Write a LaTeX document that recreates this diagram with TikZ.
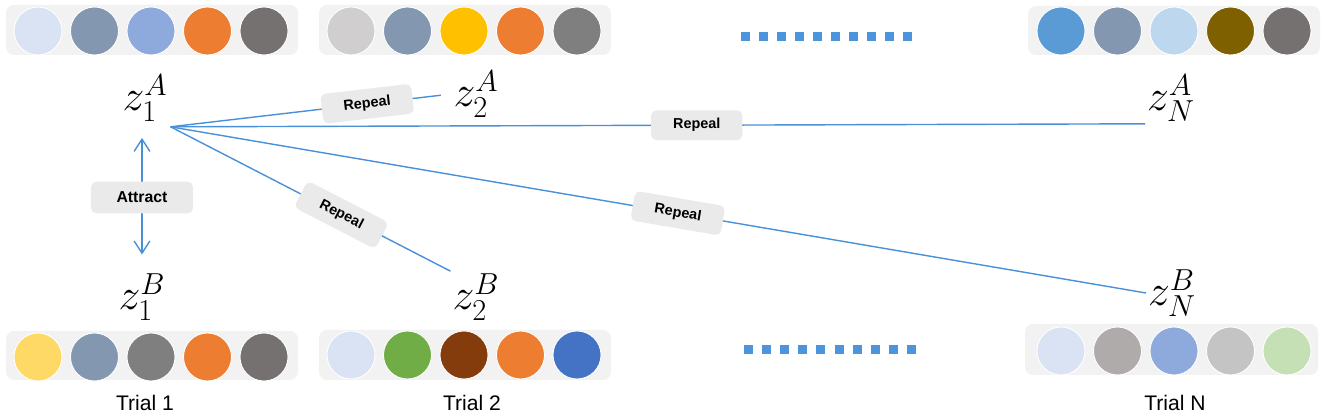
\documentclass[tikz,border=0pt]{standalone}
\usepackage{fontspec}
\setsansfont{Liberation Sans}
\usetikzlibrary{arrows.meta}

\definecolor{linkblue}{RGB}{74,144,217}
\definecolor{dotblue}{RGB}{76,148,220}
\definecolor{barbg}{RGB}{242,242,242}
\definecolor{tagbg}{RGB}{234,234,234}
% ball colours
\definecolor{paleblue}{HTML}{DAE3F3}
\definecolor{slate}{HTML}{8497B0}
\definecolor{cornflower}{HTML}{8EA9DB}
\definecolor{tangerine}{HTML}{ED7D31}
\definecolor{stone}{HTML}{767171}
\definecolor{silver}{HTML}{D0CECE}
\definecolor{gold}{HTML}{FFC000}
\definecolor{midgray}{HTML}{7F7F7F}
\definecolor{skyblue}{HTML}{5B9BD5}
\definecolor{iceblue}{HTML}{BDD7EE}
\definecolor{umber}{HTML}{7F6000}
\definecolor{butter}{HTML}{FFD966}
\definecolor{leaf}{HTML}{70AD47}
\definecolor{rust}{HTML}{843C0C}
\definecolor{royal}{HTML}{4472C4}
\definecolor{ash}{HTML}{AFABAB}
\definecolor{cloud}{HTML}{C4C4C4}
\definecolor{mint}{HTML}{C5E0B4}

\begin{document}
\begin{tikzpicture}[x=0.02cm,y=-0.02cm,
    bar/.style={fill=barbg,rounded corners=4.5pt},
    ball/.style={fill=#1,draw=white,line width=0.5pt},
    zlabel/.style={inner sep=1pt,font=\fontsize{25.5}{30}\selectfont},
    link/.style={draw=linkblue,line width=0.8pt},
    tag/.style={fill=tagbg,rounded corners=3pt,inner sep=1pt,minimum width=52pt,minimum height=17pt,font=\sffamily\bfseries\fontsize{8.2}{9}\selectfont},
    trial/.style={font=\sffamily\fontsize{12}{14}\selectfont},
    barb/.tip={Straight Barb[length=7pt,width=9pt]}]
  \useasboundingbox (0,0) rectangle (1325,418);

  % top row of trials
  \begin{scope}[shift={(6,5)}]
    \path[bar] (0,0) rectangle (292,50);
    \foreach \c [count=\i] in {paleblue,slate,cornflower,tangerine,stone}
      \path[ball=\c] ({32+(\i-1)*56.5},26) circle (24);
  \end{scope}
  \begin{scope}[shift={(319,5)}]
    \path[bar] (0,0) rectangle (292,50);
    \foreach \c [count=\i] in {silver,slate,gold,tangerine,midgray}
      \path[ball=\c] ({32+(\i-1)*56.5},26) circle (24);
  \end{scope}
  \begin{scope}[shift={(1028,6)}]
    \path[bar] (0,0) rectangle (292,49);
    \foreach \c [count=\i] in {skyblue,slate,iceblue,umber,stone}
      \path[ball=\c] ({33+(\i-1)*56.5},25) circle (24);
  \end{scope}

  % bottom row of trials
  \begin{scope}[shift={(6,331)}]
    \path[bar] (0,0) rectangle (292,49);
    \foreach \c [count=\i] in {butter,slate,midgray,tangerine,stone}
      \path[ball=\c] ({32+(\i-1)*56.5},26) circle (24);
  \end{scope}
  \begin{scope}[shift={(319,330)}]
    \path[bar] (0,0) rectangle (292,50);
    \foreach \c [count=\i] in {paleblue,leaf,rust,tangerine,royal}
      \path[ball=\c] ({32+(\i-1)*56.5},25) circle (24);
  \end{scope}
  \begin{scope}[shift={(1025,324)}]
    \path[bar] (0,0) rectangle (293,51);
    \foreach \c [count=\i] in {paleblue,ash,cornflower,cloud,mint}
      \path[ball=\c] ({36+(\i-1)*56.5},27) circle (24);
  \end{scope}

  % dots between trials
  \foreach \i in {0,...,9} {
    \fill[dotblue] ({745+\i*18.1-4.5},32.5) rectangle +(9,9);
    \fill[dotblue] ({748+\i*18.2-4.5},345.5) rectangle +(9,9);
  }

  % embeddings
  \node[zlabel] (z1a) at (145,98) {$z_1^A$};
  \node[zlabel] (z2a) at (476,94) {$z_2^A$};
  \node[zlabel] (zna) at (1171,98) {$z_N^A$};
  \node[zlabel] (z1b) at (142,297) {$z_1^B$};
  \node[zlabel] (z2b) at (476,297) {$z_2^B$};
  \node[zlabel] (znb) at (1172,293) {$z_N^B$};

  \coordinate (hub) at ([shift={(1,3)}]z1a.south east);

  \draw[link,shorten >=6pt] (hub) -- (z2a.west) node[tag,sloped,pos=0.7] {Repeal};
  \draw[link] (hub) -- (zna.south west) node[tag,pos=0.54] {Repeal};
  \draw[link] (hub) -- (znb.west) node[tag,sloped,pos=0.52] {Repeal};
  \draw[link] (hub) -- (z2b.north west) node[tag,sloped,pos=0.61] {Repeal};

  \draw[link,barb-barb,shorten <=8pt,shorten >=9.5pt] (z1a.south -| z1b.north) -- (z1b.north)
    node[tag,midway,minimum width=58pt,minimum height=18pt,font=\sffamily\bfseries\fontsize{9}{10}\selectfont] {Attract};

  % trial names
  \node[trial] (t1) at (145,403) {Trial 1};
  \node[trial] (t2) at (472,403) {Trial 2};
  \node[trial] (tn) at (1175,403) {Trial N};
\end{tikzpicture}
\end{document}
